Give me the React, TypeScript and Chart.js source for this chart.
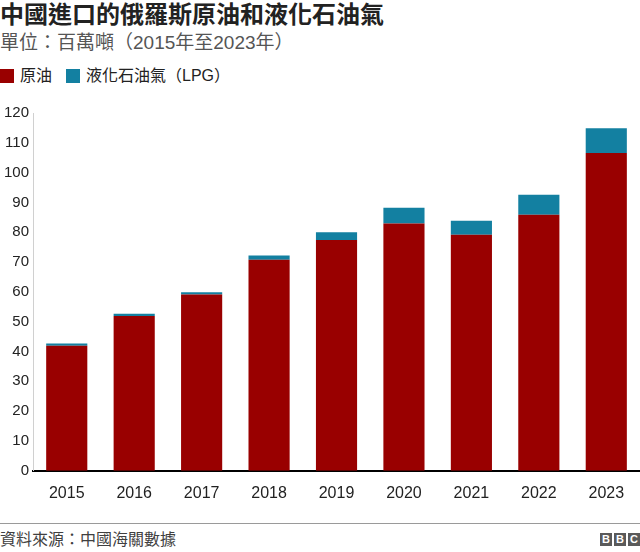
import React, { useEffect, useRef } from "react";
import { Chart, registerables } from "chart.js";

Chart.register(...registerables);

const years = ["2015", "2016", "2017", "2018", "2019", "2020", "2021", "2022", "2023"];
const crudeOil = [41.9, 51.9, 59.1, 70.8, 77.4, 82.9, 79.2, 85.9, 106.6];
const lpg = [0.8, 0.8, 0.8, 1.4, 2.6, 5.3, 4.7, 6.7, 8.3];
const seriesNames = ["原油", "液化石油氣（LPG）"];
const seriesColors = ["#990000", "#1380A1"];
const title = "中國進口的俄羅斯原油和液化石油氣";
const subtitle = "單位：百萬噸（2015年至2023年）";
const source = "資料來源：中國海關數據";

const FONT = '"Liberation Sans", Arial, "Noto Sans CJK TC", sans-serif';

export default function App() {
  const ref = useRef<HTMLCanvasElement | null>(null);

  useEffect(() => {
    if (!ref.current) return;
    const chart = new Chart(ref.current, {
      type: "bar",
      data: {
        labels: years,
        datasets: [
          {
            label: seriesNames[0],
            data: crudeOil,
            backgroundColor: seriesColors[0],
            borderWidth: 0,
            barPercentage: 0.61,
            categoryPercentage: 1,
          },
          {
            label: seriesNames[1],
            data: lpg,
            backgroundColor: seriesColors[1],
            borderWidth: 0,
            barPercentage: 0.61,
            categoryPercentage: 1,
          },
        ],
      },
      options: {
        animation: false,
        responsive: false,
        maintainAspectRatio: false,
        layout: { padding: { top: 8, left: 0, right: 0, bottom: 0 } },
        plugins: {
          legend: { display: false },
          tooltip: { enabled: false },
          title: { display: false },
        },
        scales: {
          x: {
            stacked: true,
            grid: { display: false, drawTicks: false },
            border: { display: true, color: "#000000", width: 2 },
            ticks: {
              color: "#222222",
              font: { family: FONT, size: 16 },
              padding: 13,
              maxRotation: 0,
            },
          },
          y: {
            stacked: true,
            min: 0,
            max: 120,
            grid: { display: false, drawTicks: false },
            border: { display: true, color: "#d0d0d0", width: 1 },
            ticks: {
              stepSize: 10,
              color: "#222222",
              font: { family: FONT, size: 15 },
              padding: 4,
            },
          },
        },
      },
    });
    return () => chart.destroy();
  }, []);

  const legendItem = (i: number, left: number) => (
    <div style={{ position: "absolute", left, top: 66, height: 20, display: "flex", alignItems: "center" }}>
      <div style={{ width: 14, height: 14, background: seriesColors[i], marginRight: 6 }} />
      <span style={{ fontSize: 16, color: "#222", lineHeight: "20px" }}>{seriesNames[i]}</span>
    </div>
  );

  return (
    <div style={{ position: "absolute", left: 0, top: 0, width: 640, height: 552, background: "#fff", fontFamily: FONT, overflow: "hidden" }}>
      <div style={{ position: "absolute", left: 0, top: 0, fontSize: 24, fontWeight: "bold", lineHeight: "30px", color: "#222", whiteSpace: "nowrap" }}>
        {title}
      </div>
      <div style={{ position: "absolute", left: 0, top: 31, fontSize: 19, lineHeight: "24px", color: "#555", whiteSpace: "nowrap" }}>
        {subtitle}
      </div>
      {legendItem(0, 0)}
      {legendItem(1, 66)}
      <canvas ref={ref} width={640} height={416} style={{ position: "absolute", left: 0, top: 100, width: 640, height: 416 }} />
      <div style={{ position: "absolute", left: 0, top: 523, width: 640, height: 1, background: "#9a9a9a" }} />
      <div style={{ position: "absolute", left: 0, top: 530, fontSize: 16, lineHeight: "20px", color: "#404040", whiteSpace: "nowrap" }}>
        {source}
      </div>
      <div style={{ position: "absolute", right: 0, top: 533, display: "flex", gap: 2 }}>
        {["B", "B", "C"].map((c, i) => (
          <div key={i} style={{ width: 12, height: 13, background: "#5a5a5a", color: "#fff", fontSize: 11, fontWeight: "bold", lineHeight: "13px", textAlign: "center", fontFamily: FONT }}>
            {c}
          </div>
        ))}
      </div>
    </div>
  );
}
